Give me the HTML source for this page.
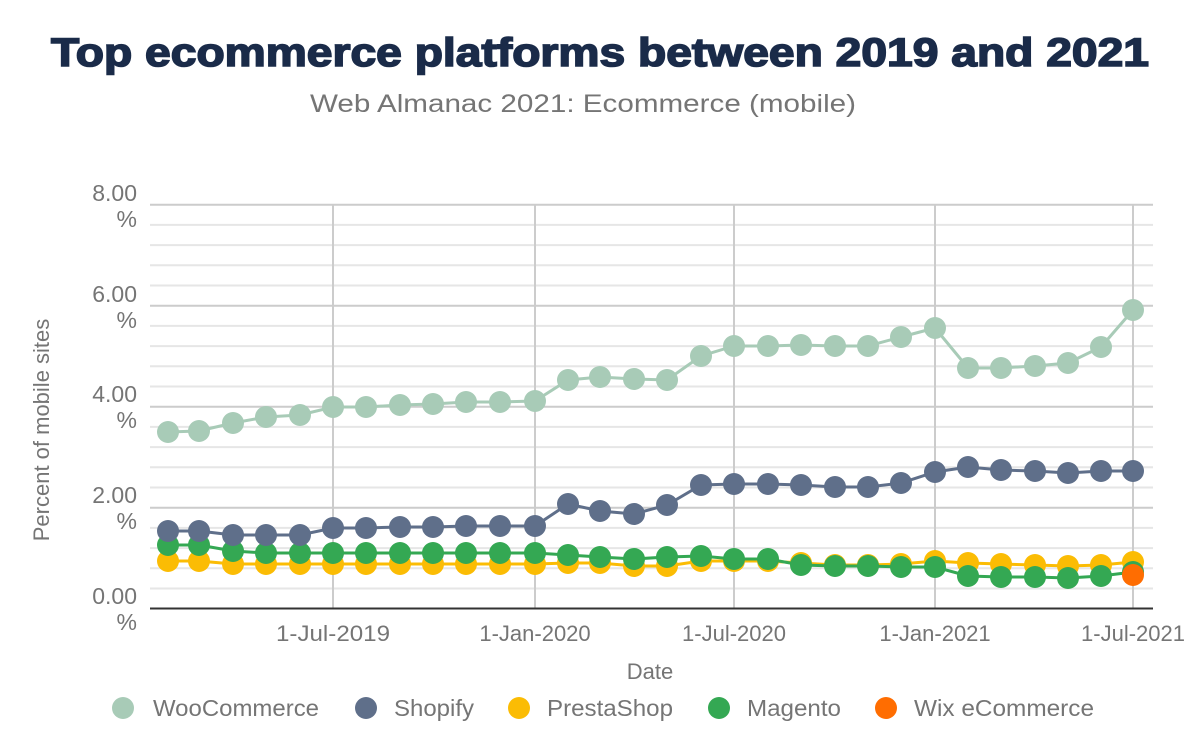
<!DOCTYPE html>
<html><head><meta charset="utf-8"><style>
html,body{margin:0;padding:0;background:#fff;width:1200px;height:742px;overflow:hidden}
svg text{font-family:"Liberation Sans",Arial,sans-serif}
</style></head><body>
<svg width="1200" height="742" xmlns="http://www.w3.org/2000/svg">
<text x="600" y="66" text-anchor="middle" font-size="40" font-weight="bold" fill="#1a2b49" stroke="#1a2b49" stroke-width="1.6" textLength="1098" lengthAdjust="spacingAndGlyphs">Top ecommerce platforms between 2019 and 2021</text>
<text x="583" y="112" text-anchor="middle" font-size="25" fill="#757575" textLength="546" lengthAdjust="spacingAndGlyphs">Web Almanac 2021: Ecommerce (mobile)</text>
<g id="grid"></g>
<g id="series"></g>
<g fill="#757575" font-size="23" text-anchor="end">
<text x="137" y="201">8.00</text><text x="137" y="227">%</text>
<text x="137" y="302">6.00</text><text x="137" y="328">%</text>
<text x="137" y="402">4.00</text><text x="137" y="428">%</text>
<text x="137" y="503">2.00</text><text x="137" y="529">%</text>
<text x="137" y="604">0.00</text><text x="137" y="630">%</text>
</g>
<g fill="#757575" font-size="22" text-anchor="middle">
<text x="333" y="641" textLength="114" lengthAdjust="spacingAndGlyphs">1-Jul-2019</text>
<text x="535" y="641">1-Jan-2020</text>
<text x="734" y="641">1-Jul-2020</text>
<text x="935" y="641">1-Jan-2021</text>
<text x="1133" y="641">1-Jul-2021</text>
<text x="650" y="679">Date</text>
</g>
<text transform="translate(49,430) rotate(-90)" text-anchor="middle" font-size="22" fill="#757575">Percent of mobile sites</text>
<g font-size="23" fill="#757575">
<circle cx="123" cy="708" r="11" fill="#a8cbb7"/><text x="153" y="716" textLength="166" lengthAdjust="spacingAndGlyphs">WooCommerce</text>
<circle cx="366" cy="708" r="11" fill="#5f6f8a"/><text x="394" y="716" textLength="80" lengthAdjust="spacingAndGlyphs">Shopify</text>
<circle cx="519" cy="708" r="11" fill="#fbbc04"/><text x="547" y="716" textLength="126" lengthAdjust="spacingAndGlyphs">PrestaShop</text>
<circle cx="719" cy="708" r="11" fill="#34a853"/><text x="747" y="716" textLength="94" lengthAdjust="spacingAndGlyphs">Magento</text>
<circle cx="886" cy="708" r="11" fill="#ff6d01"/><text x="914" y="716" textLength="180" lengthAdjust="spacingAndGlyphs">Wix eCommerce</text>
</g>
</svg>
<script>
var NS="http://www.w3.org/2000/svg";
function el(p,t,a){var e=document.createElementNS(NS,t);for(var k in a)e.setAttribute(k,a[k]);p.appendChild(e);return e;}
var g=document.getElementById("grid");
for(var i=0;i<20;i++){var y=204.7+i*20.2;
 el(g,"line",{x1:150,x2:1153,y1:y,y2:y,stroke:(i%5==0)?"#cccccc":"#e6e6e6","stroke-width":2});}
[333,535,734,935,1133].forEach(function(x){el(g,"line",{x1:x,x2:x,y1:204,y2:608,stroke:"#cccccc","stroke-width":2});});
el(g,"line",{x1:150,x2:1153,y1:608.5,y2:608.5,stroke:"#333","stroke-width":2});
var xs=[168,199,233,266,300,333,366,400,433,466,500,535,568,600,634,667,701,734,768,801,835,868,901,935,968,1001,1035,1068,1101,1133];
var S=[
["#fbbc04",[561,561,564,564,564,564,564,564,564,564,564,564,563,563,566,566,561,561,561,563,565,565,564,561,563,564,565,566,565,562]],
["#34a853",[545,545,551,553,553,553,553,553,553,553,553,553,555,557,559,557,556,559,559,565,566,566,567,567,576,577,577,578,576,572]],
["#5f6f8a",[531,531,535,535,535,528,528,527,527,526,526,526,504,511,514,505,485,484,484,485,487,487,483,472,467,470,471,473,471,471]],
["#a8cbb7",[432,431,423,417,415,407,407,405,404,402,402,401,380,377,379,380,356,346,346,345,346,346,337,328,368,368,366,363,347,310]]
];
var sg=document.getElementById("series");
S.forEach(function(s){var d="";s[1].forEach(function(y,i){d+=(i?"L":"M")+xs[i]+" "+y;});
 el(sg,"path",{d:d,fill:"none",stroke:s[0],"stroke-width":3});
 s[1].forEach(function(y,i){el(sg,"circle",{cx:xs[i],cy:y,r:11,fill:s[0]});});});
el(sg,"circle",{cx:1133,cy:575,r:11,fill:"#ff6d01"});
</script>
</body></html>
